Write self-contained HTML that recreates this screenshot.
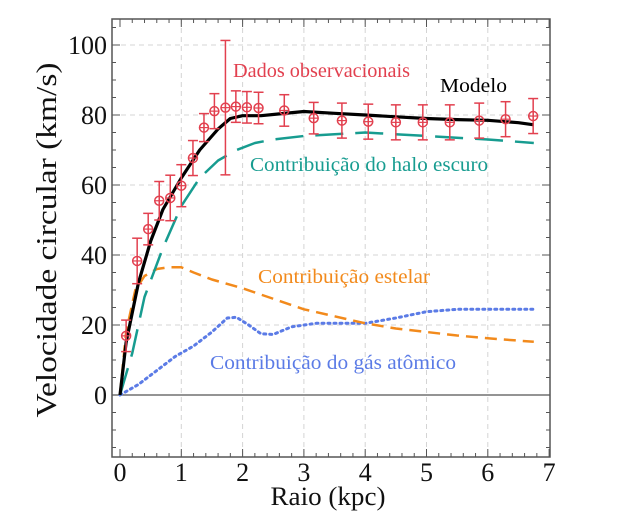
<!DOCTYPE html>
<html><head><meta charset="utf-8"><style>
body{margin:0;background:#fff;}
svg text{font-family:"Liberation Serif","Times New Roman","DejaVu Serif",serif;}
</style></head><body>
<svg id="c" width="636" height="516" xmlns="http://www.w3.org/2000/svg"></svg>
<script>
const xTicks=[0,1,2,3,4,5,6,7];
const yTicks=[0,20,40,60,80,100];
const obsR=[0.1,0.28,0.46,0.64,0.82,1.0,1.19,1.37,1.54,1.72,1.89,2.07,2.26,2.68,3.16,3.62,4.05,4.5,4.94,5.38,5.86,6.29,6.74];
const obsV=[16.9,38.3,47.4,55.5,56.3,59.8,67.7,76.4,81.1,82.1,82.4,82.2,82,81.3,79.1,78.4,78.1,77.9,77.9,77.9,78.4,78.8,79.7];
const obsErr=[4.5,6.5,4.5,5.5,6.5,6,5,4,5,19.2,4.5,4.5,4.5,4.5,4.5,5,5,5,5,5,5,5,5];
const modelR=[0,0.1,0.3,0.5,0.7,1,1.3,1.6,1.8,2,2.3,2.6,3,3.5,4,4.5,5,5.5,6,6.5,6.75];
const modelV=[0,15,32,44,53,62,70,76,79,79.8,79.8,80.3,81,80.5,80,79.5,79,78.7,78.5,77.8,77.2];
const haloR=[0,0.2,0.4,0.7,1,1.3,1.6,1.9,2.2,2.5,3,3.5,4,5,6,6.75];
const haloV=[0,12,28,42,54,62,67,70,72,73,74,74.5,75,74,73,72];
const starR=[0,0.1,0.25,0.4,0.6,0.8,1,1.2,1.5,2,2.5,3,3.5,4,4.5,5,5.5,6,6.75];
const starV=[0,18,30,34,36,36.5,36.5,35,33,30.5,27.5,24.5,22.5,20.5,19,18,17,16.2,15.2];
const gasR=[0,0.3,0.6,0.9,1.2,1.5,1.75,1.9,2.1,2.3,2.5,2.8,3.2,3.7,4,4.5,5,5.5,6,6.75];
const gasV=[0,3,7,11,14,18,22,22.2,20,17.5,17.3,19.5,20.5,20.5,20.5,22,23.8,24.5,24.5,24.5];

const L=112,R=550,T=19,B=457;
const X=v=>120+v*61.3;
const Y=v=>395-v*3.5;
const svg=document.getElementById('c');
const NS='http://www.w3.org/2000/svg';
const FF='"Liberation Serif","Times New Roman","DejaVu Serif",serif';
function mk(tag,attrs,parent){const e=document.createElementNS(NS,tag);for(const k in attrs)e.setAttribute(k,attrs[k]);if(tag==='text')e.setAttribute('font-family',FF);(parent||svg).appendChild(e);return e;}

const grid=mk('g',{});


xTicks.forEach(t=>{if(t>0&&t<7)mk('line',{x1:X(t),x2:X(t),y1:T,y2:B,stroke:'#d4d4d4','stroke-dasharray':'5,4','stroke-width':1},grid);});
yTicks.forEach(t=>{mk('line',{x1:L,x2:R,y1:Y(t),y2:Y(t),stroke:'#d4d4d4','stroke-dasharray':'5,4','stroke-width':1},grid);});
mk('line',{x1:L,x2:R,y1:Y(0),y2:Y(0),stroke:'#555','stroke-width':1.2});

const ax=mk('g',{});


mk('rect',{x:L,y:T,width:R-L,height:B-T,fill:'none',stroke:'#555','stroke-width':1.5},ax);
for(let v=0;v<=7.001;v+=0.2){const maj=Math.abs(v-Math.round(v))<0.01;const l=maj?8:4;const x=X(v);
 mk('line',{x1:x,x2:x,y1:B,y2:B-l,stroke:'#555'},ax);mk('line',{x1:x,x2:x,y1:T,y2:T+l,stroke:'#555'},ax);}
for(let v=-15;v<=105;v+=5){const maj=v%20===0;const l=maj?8:4;const y=Y(v);
 mk('line',{x1:L,x2:L+l,y1:y,y2:y,stroke:'#555'},ax);mk('line',{x1:R,x2:R-l,y1:y,y2:y,stroke:'#555'},ax);}
xTicks.forEach(t=>{const e=mk('text',{x:X(t),y:481,'font-size':26,'text-anchor':'middle',fill:'#111'});e.textContent=t;
 });
yTicks.forEach(t=>{const e=mk('text',{x:107,y:Y(t)+9,'font-size':26,'text-anchor':'end',fill:'#111'});e.textContent=t;
 });

function line(rs,vs,color,w,dash,name){const d=rs.map((r,i)=>(i?'L':'M')+X(r).toFixed(1)+','+Y(vs[i]).toFixed(1)).join('');
 const p=mk('path',{d:d,fill:'none',stroke:color,'stroke-width':w,'stroke-dasharray':dash||'none','stroke-linecap':dash==='2,4'?'round':'butt','stroke-linejoin':'round'});
 }
line(gasR,gasV,'#5b7be6',3,'2,4','gas-curve');
line(starR,starV,'#f28a1c',2.5,'12,7','stellar-curve');
line(haloR,haloV,'#179c90',2.5,'28,12','halo-curve');
line(modelR,modelV,'#000',3.2,null,'model-curve');

const red='#e2404f';
const obs=mk('g',{});


obsR.forEach((r,i)=>{const x=X(r),y=Y(obsV[i]),t=Y(obsV[i]+obsErr[i]),b=Y(obsV[i]-obsErr[i]);
 mk('line',{x1:x,x2:x,y1:t,y2:b,stroke:red,'stroke-width':1.5},obs);
 mk('line',{x1:x-5,x2:x+5,y1:t,y2:t,stroke:red,'stroke-width':1.5},obs);
 mk('line',{x1:x-5,x2:x+5,y1:b,y2:b,stroke:red,'stroke-width':1.5},obs);
 mk('circle',{cx:x,cy:y,r:4.5,fill:'none',stroke:red,'stroke-width':1.5},obs);
 mk('line',{x1:x-4.5,x2:x+4.5,y1:y,y2:y,stroke:red,'stroke-width':1.2},obs);
 mk('line',{x1:x,x2:x,y1:y-4.5,y2:y+4.5,stroke:red,'stroke-width':1.2},obs);});

function lab(x,y,txt,color,name,w){const e=mk('text',{x:x,y:y,'font-size':20,fill:color,textLength:w,lengthAdjust:'spacingAndGlyphs'});e.textContent=txt;
 }
lab(233,77,'Dados observacionais',red,'label-observed',177);
lab(440,92,'Modelo','#000','label-model',67);
lab(250,171,'Contribuição do halo escuro','#179c90','label-halo',238);
lab(258,283,'Contribuição estelar','#f28a1c','label-stellar',172);
lab(210,369,'Contribuição do gás atômico','#5b7be6','label-gas',246);

const xt=mk('text',{x:328,y:505,'font-size':26,'text-anchor':'middle',fill:'#111',textLength:115,lengthAdjust:'spacingAndGlyphs'});xt.textContent='Raio (kpc)';

const yt=mk('text',{x:0,y:0,'font-size':28,'text-anchor':'middle',fill:'#111',transform:'translate(56,240) rotate(-90)',textLength:355,lengthAdjust:'spacingAndGlyphs'});yt.textContent='Velocidade circular (km/s)';

</script>
</body></html>
